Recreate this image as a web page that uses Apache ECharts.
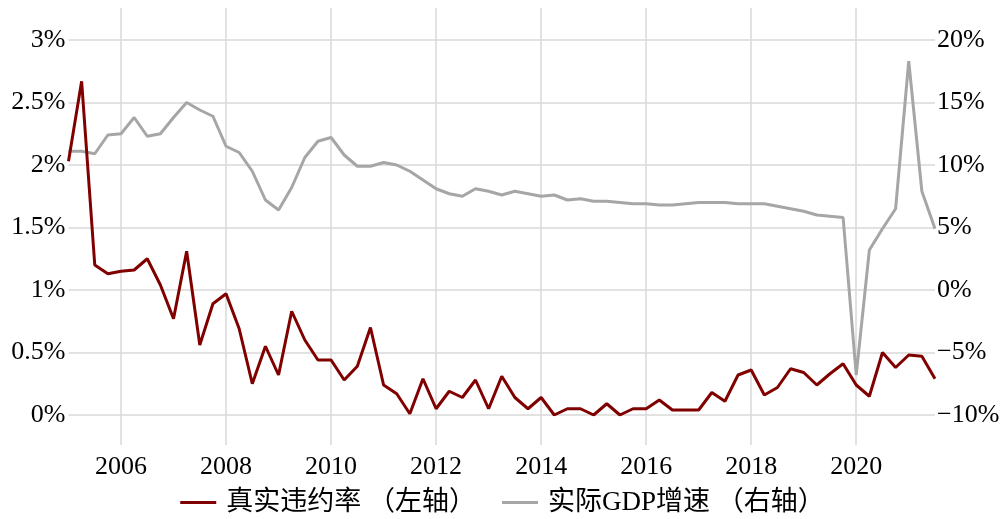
<!DOCTYPE html>
<html>
<head>
<meta charset="utf-8">
<script src="https://cdn.jsdelivr.net/npm/echarts@6/dist/echarts.min.js"></script>
<style>
html,body{margin:0;padding:0;background:#fff;}
#chart{width:1005px;height:519px;}
</style>
</head>
<body>
<div id="chart"></div>
<script>
// Quarterly categories 2005Q1 .. 2021Q3
const startYear = 2005;
const quarterCount = 67;
const categories = [];
for (let i = 0; i < quarterCount; i++) {
  categories.push((startYear + Math.floor(i / 4)) + 'Q' + (i % 4 + 1));
}

const seriesNames = ['真实违约率 （左轴）', '实际GDP增速 （右轴）'];

// 真实违约率 (%), left axis
const defaultRate = [
  2.03, 2.67, 1.20, 1.13, 1.15, 1.16, 1.25, 1.04, 0.77, 1.31,
  0.56, 0.89, 0.97, 0.69, 0.25, 0.55, 0.32, 0.83, 0.60, 0.44,
  0.44, 0.28, 0.39, 0.70, 0.24, 0.17, 0.01, 0.29, 0.05, 0.19,
  0.14, 0.28, 0.05, 0.31, 0.14, 0.05, 0.14, 0.00, 0.05, 0.05,
  0.00, 0.09, 0.00, 0.05, 0.05, 0.12, 0.04, 0.04, 0.04, 0.18,
  0.11, 0.32, 0.36, 0.16, 0.22, 0.37, 0.34, 0.24, 0.33, 0.41,
  0.24, 0.15, 0.50, 0.38, 0.48, 0.47, 0.29
];

// 实际GDP增速 (%), right axis
const gdpGrowth = [
  11.1, 11.1, 10.9, 12.4, 12.5, 13.8, 12.3, 12.5, 13.8, 15.0,
  14.4, 13.9, 11.5, 11.0, 9.5, 7.2, 6.4, 8.2, 10.6, 11.9,
  12.2, 10.8, 9.9, 9.9, 10.2, 10.0, 9.5, 8.8, 8.1, 7.7,
  7.5, 8.1, 7.9, 7.6, 7.9, 7.7, 7.5, 7.6, 7.2, 7.3,
  7.1, 7.1, 7.0, 6.9, 6.9, 6.8, 6.8, 6.9, 7.0, 7.0,
  7.0, 6.9, 6.9, 6.9, 6.7, 6.5, 6.3, 6.0, 5.9, 5.8,
  -6.8, 3.2, 4.9, 6.5, 18.3, 7.9, 4.9
];

const leftTicks = {min: 0, max: 3, interval: 0.5};
const rightTicks = {min: -10, max: 20, interval: 5};

const FONT = "'Liberation Serif', 'Noto Sans CJK SC', serif";
const gridColor = '#d9d9d9';

function isEvenYearStart(idx) {
  const c = categories[idx];
  const y = parseInt(c.slice(0, 4), 10);
  return c.endsWith('Q1') && y % 2 === 0;
}

const chart = echarts.init(document.getElementById('chart'), null, {renderer: 'canvas'});
chart.setOption({
  animation: false,
  backgroundColor: '#fff',
  grid: [
    {left: 68.5, right: 70, top: 40, bottom: 104},
    {left: 68.5, right: 70, top: 8, bottom: 74}
  ],
  legend: {
    data: seriesNames,
    left: 'center',
    top: 484,
    icon: 'rect',
    itemWidth: 36,
    itemHeight: 3,
    itemGap: 26,
    textStyle: {fontFamily: FONT, fontSize: 27, color: '#000', padding: [0, 0, 0, 5]}
  },
  xAxis: [
    {
      gridIndex: 0, type: 'category', data: categories, boundaryGap: false, show: false
    },
    {
      gridIndex: 1, type: 'category', data: categories, boundaryGap: false,
      axisLine: {show: false}, axisTick: {show: false},
      axisLabel: {
        interval: (idx) => isEvenYearStart(idx),
        formatter: (v) => v.slice(0, 4),
        fontFamily: FONT, fontSize: 26, color: '#000', margin: 9,
        hideOverlap: false
      },
      splitLine: {show: true, interval: (idx) => isEvenYearStart(idx), lineStyle: {color: gridColor, width: 1.5}}
    }
  ],
  yAxis: [
    {
      gridIndex: 0, type: 'value', position: 'left',
      min: leftTicks.min, max: leftTicks.max, interval: leftTicks.interval,
      axisLine: {show: false}, axisTick: {show: false},
      axisLabel: {formatter: (v) => v + '%', fontFamily: FONT, fontSize: 26, color: '#000', margin: 3},
      splitLine: {show: true, lineStyle: {color: gridColor, width: 1.5}}
    },
    {
      gridIndex: 0, type: 'value', position: 'right',
      min: rightTicks.min, max: rightTicks.max, interval: rightTicks.interval,
      axisLine: {show: false}, axisTick: {show: false},
      axisLabel: {formatter: (v) => (v < 0 ? '\u2212' + Math.abs(v) : v) + '%', fontFamily: FONT, fontSize: 26, color: '#000', margin: 2},
      splitLine: {show: false}
    },
    {
      gridIndex: 1, type: 'value', show: false, min: 0, max: 1
    }
  ],
  series: [
    {
      name: seriesNames[0], type: 'line', xAxisIndex: 0, yAxisIndex: 0,
      data: defaultRate, symbol: 'none', z: 3,
      lineStyle: {color: '#800000', width: 3},
      itemStyle: {color: '#800000'}
    },
    {
      name: seriesNames[1], type: 'line', xAxisIndex: 0, yAxisIndex: 1,
      data: gdpGrowth, symbol: 'none', z: 2,
      lineStyle: {color: '#a6a6a6', width: 3},
      itemStyle: {color: '#a6a6a6'}
    }
  ]
});
</script>
</body>
</html>
